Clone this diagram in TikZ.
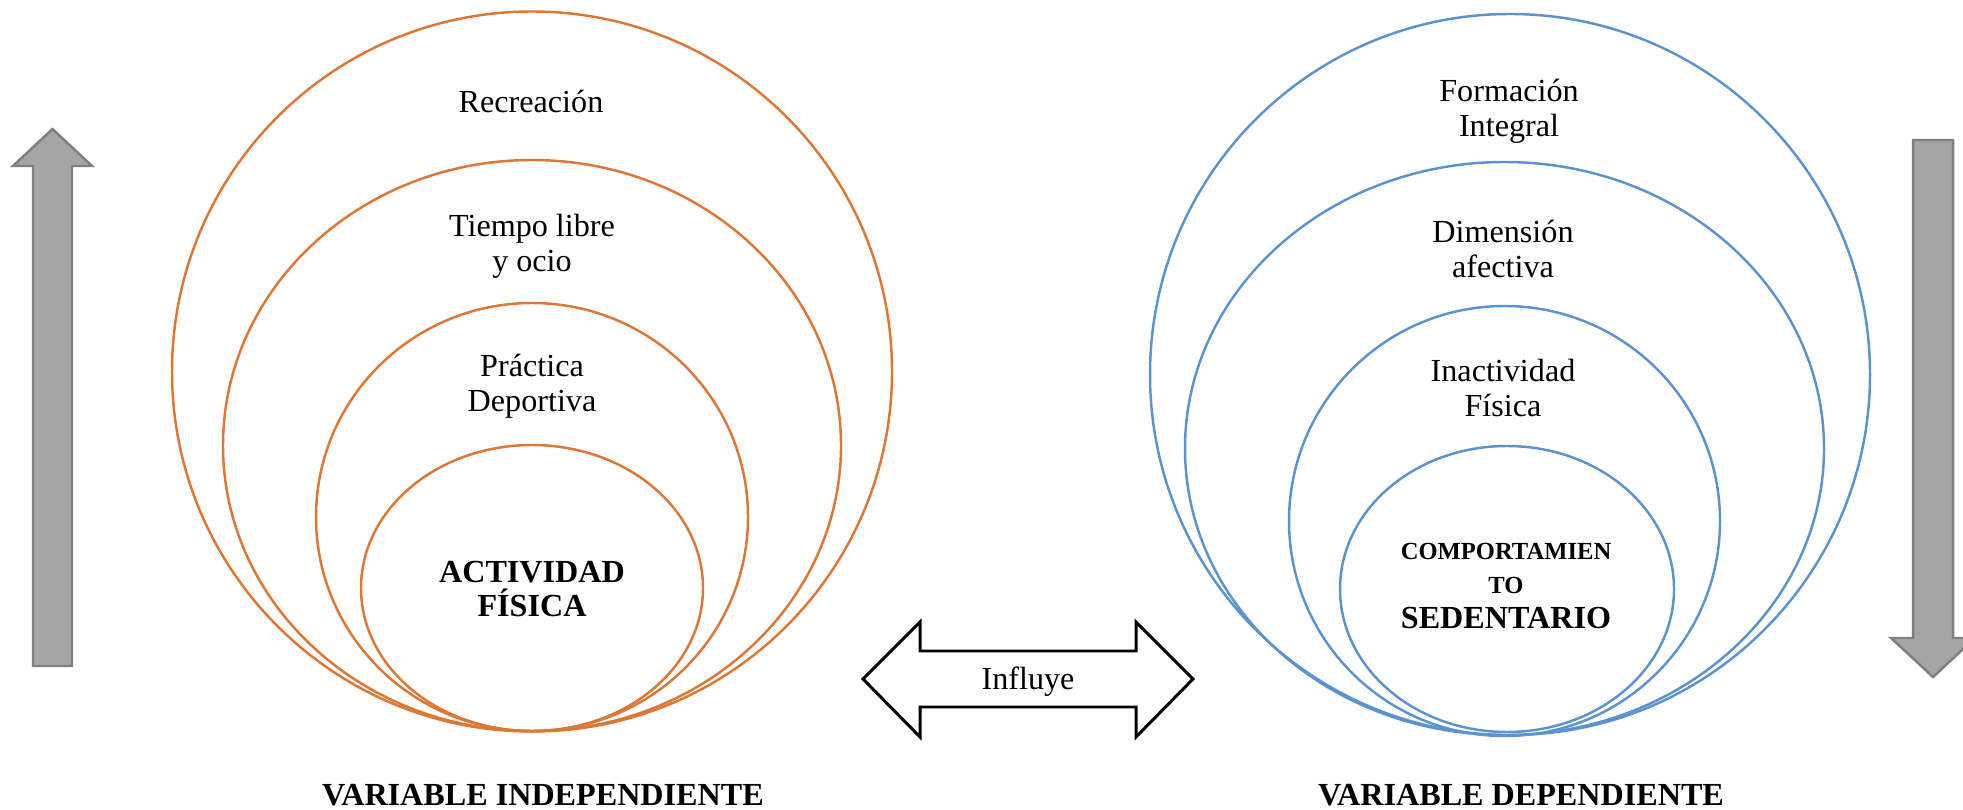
\documentclass[tikz,border=0pt]{standalone}
\usepackage{fontspec}
\setmainfont{Liberation Serif}
\usetikzlibrary{shapes.geometric}

\definecolor{naranja}{HTML}{DE7733}
\definecolor{azul}{HTML}{5B93CF}
\definecolor{grisrelleno}{HTML}{A5A5A5}
\definecolor{grisborde}{HTML}{7F7F7F}
\newcommand{\pxl}{0.02cm}

\begin{document}
\begin{tikzpicture}[
        x=\pxl, y=-\pxl,
        every node/.style={
            align=center,
            inner sep=0pt,
            font=\fontsize{18.3}{19.8}\selectfont
        },
        ring/.style 2 args={
            ellipse,
            draw,
            line width=1.4pt,
            minimum width=#1*\pxl,
            minimum height=#2*\pxl
        },
        rotulo/.style={font=\fontsize{18.3}{19.8}\selectfont\bfseries},
        flechagris/.style={fill=grisrelleno, draw=grisborde, line width=1.4pt}
    ]
        \useasboundingbox (0,0) rectangle (1963,810);

        % Left group (independent variable)
        \node[ring={720}{720}, naranja] (rec) at (532,371.5) {};
        \node[ring={618}{571}, naranja] (tlo) at (532,445.5) {};
        \node[ring={432}{428}, naranja] (pd)  at (532,517) {};
        \node[ring={342}{286}, naranja] (af)  at (532,588) {};

        \node (trec) at (531,101) {Recreación};
        \node (ttlo) at (532,246) {Tiempo libre\\y ocio};
        \node (tpd)  at (532,386) {Práctica\\Deportiva};
        \node[rotulo] (taf) at (532,589) {ACTIVIDAD\\FÍSICA};

        % Right group (dependent variable)
        \node[ring={720}{721}, azul] (fi)  at (1510,374.5) {};
        \node[ring={639}{573}, azul] (da)  at (1504.5,448.5) {};
        \node[ring={431}{430}, azul] (ifi) at (1504.5,521) {};
        \node[ring={334}{286}, azul] (cs)  at (1507,589) {};

        \node (tfi)  at (1509,111) {Formación\\Integral};
        \node (tda)  at (1503,249) {Dimensión\\afectiva};
        \node (tifi) at (1503,388) {Inactividad\\Física};
        \node (tcs)  at (1506,586) {\fontsize{14}{18.3}\selectfont\bfseries COMPORTAMIEN\\
            \fontsize{14}{18.3}\selectfont\bfseries TO\\
            \fontsize{18.3}{18.3}\selectfont\bfseries SEDENTARIO};

        % Variable names
        \node[rotulo] (vind) at (543,795) {VARIABLE INDEPENDIENTE};
        \node[rotulo] (vdep) at (1521,795) {VARIABLE DEPENDIENTE};

        % Influence arrow
        \draw[line width=1.7pt, fill=white] (863,679) -- (920,622) -- (920,651) -- (1136,651)
            -- (1136,622) -- (1193,679) -- (1136,737) -- (1136,707) -- (920,707)
            -- (920,737) -- cycle;
        \node (infl) at (1028,682) {Influye};

        % Side arrows
        \draw[flechagris] (33,666) -- (33,166) -- (13,166) -- (52.5,129) -- (92,166)
            -- (72,166) -- (72,666) -- cycle;
        \draw[flechagris] (1913,140) -- (1953,140) -- (1953,638) -- (1975,638)
            -- (1933,677) -- (1891,638) -- (1913,638) -- cycle;
    \end{tikzpicture}
\end{document}
